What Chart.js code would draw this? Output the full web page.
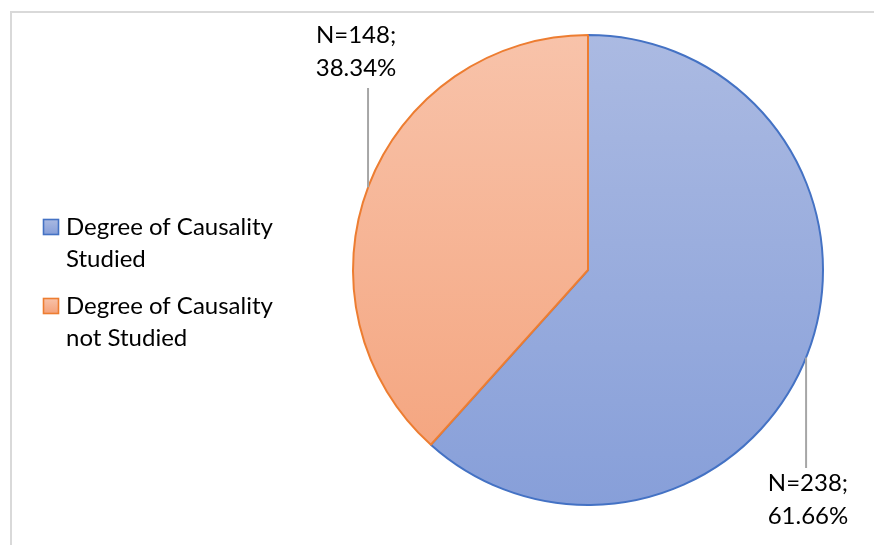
<!DOCTYPE html>
<html>
<head>
<meta charset="utf-8">
<script src="https://cdn.jsdelivr.net/npm/chart.js@4.4.1/dist/chart.umd.min.js"></script>
<style>
  html, body { margin: 0; padding: 0; background: #ffffff; }
  #wrap { position: relative; width: 874px; height: 545px; overflow: hidden; }
  #frame { position: absolute; left: 10px; top: 11px; width: 900px; height: 600px;
           border-top: 2px solid #d9d9d9; border-left: 2px solid #d9d9d9; box-sizing: border-box; }
  canvas { position: absolute; left: 0; top: 0; }
</style>
</head>
<body>
<div id="wrap">
  <div id="frame"></div>
  <canvas id="c" width="874" height="545"></canvas>
</div>
<script>
// ---- data ----
const categories = [["Degree of Causality", "Studied"], ["Degree of Causality", "not Studied"]];
const counts = [238, 148];
const percentLabels = ["61.66%", "38.34%"];

const borderColors = ["#4472c4", "#ed7d31"];
const gradTop = ["#abbae2", "#f8c3aa"];
const gradBottom = ["#879fd9", "#f4a27b"];
const FONT = "Lato, 'Liberation Sans', sans-serif";

function sliceFill(ctx) {
  const chart = ctx.chart;
  const area = chart.chartArea;
  if (!area) return gradTop[ctx.dataIndex];
  const g = chart.ctx.createLinearGradient(0, area.top, 0, area.bottom);
  g.addColorStop(0, gradTop[ctx.dataIndex]);
  g.addColorStop(1, gradBottom[ctx.dataIndex]);
  return g;
}

const overlay = {
  id: 'overlay',
  afterDraw(chart) {
    const ctx = chart.ctx;
    const meta = chart.getDatasetMeta(0);
    const arc0 = meta.data[0];
    const cx = arc0.x, cy = arc0.y, r = arc0.outerRadius;
    ctx.save();
    ctx.font = "24px " + FONT;
    ctx.fillStyle = "#000000";
    ctx.textBaseline = "middle";
    // legend
    const legendTops = [219, 298];
    categories.forEach((lines, i) => {
      const y0 = legendTops[i];
      const g = ctx.createLinearGradient(0, y0, 0, y0 + 15);
      g.addColorStop(0, gradTop[i]); g.addColorStop(1, gradBottom[i]);
      ctx.fillStyle = g;
      ctx.fillRect(43.5, y0 + 0.5, 15, 15);
      ctx.strokeStyle = borderColors[i];
      ctx.lineWidth = 1.6;
      ctx.strokeRect(43.5, y0 + 0.5, 15, 15);
      ctx.fillStyle = "#000000";
      ctx.textAlign = "left";
      lines.forEach((t, k) => ctx.fillText(t, 66, y0 + 8 + k * 32));
    });
    // data labels with leader lines
    const specs = [
      { lineX: 0.928, textX: 0.936, lineEnd: 468, textY: 483, side: 1 },
      { lineX: -0.936, textX: -0.987, lineEnd: 88, textY: 35, side: -1 }
    ];
    specs.forEach((s, i) => {
      const lx = cx + s.lineX * r;
      const dy = Math.sqrt(Math.max(r * r - (lx - cx) * (lx - cx), 0));
      const edgeY = cy + s.side * dy;
      ctx.strokeStyle = "#a6a6a6";
      ctx.lineWidth = 2;
      ctx.beginPath();
      ctx.moveTo(lx, edgeY);
      ctx.lineTo(lx, s.lineEnd);
      ctx.stroke();
      ctx.fillStyle = "#000000";
      ctx.textAlign = "center";
      const tx = cx + s.textX * r;
      ctx.fillText("N=" + counts[i] + ";", tx, s.textY);
      ctx.fillText(percentLabels[i], tx, s.textY + 33);
    });
    ctx.restore();
  }
};

new Chart(document.getElementById('c'), {
  type: 'pie',
  data: {
    labels: categories.map(l => l.join(' ')),
    datasets: [{
      data: counts,
      backgroundColor: sliceFill,
      borderColor: borderColors,
      borderWidth: 2,
      borderAlign: 'center'
    }]
  },
  options: {
    responsive: false,
    animation: false,
    layout: { padding: { left: 352, right: 50, top: 34, bottom: 39 } },
    plugins: { legend: { display: false }, tooltip: { enabled: false } }
  },
  plugins: [overlay]
});
</script>
</body>
</html>
